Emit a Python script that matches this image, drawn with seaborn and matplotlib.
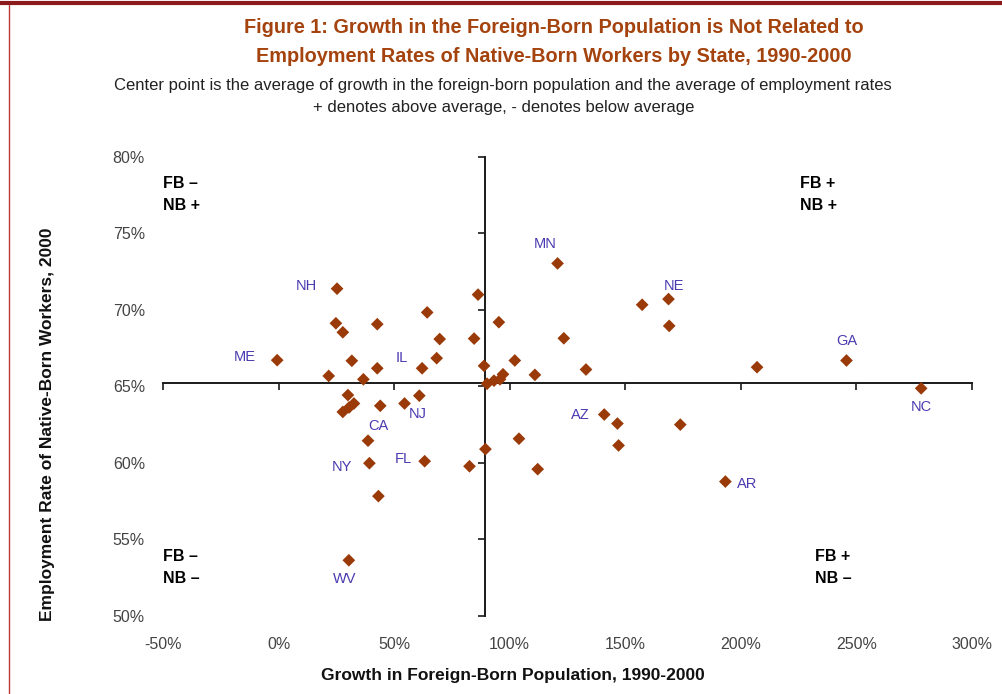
import matplotlib
matplotlib.use("Agg")
import matplotlib.pyplot as plt
from matplotlib.lines import Line2D
from matplotlib.ticker import FuncFormatter
import seaborn as sns
import pandas as pd

# ---------------- data ----------------
fb_growth = [25.3, 86.3, 64.3, 95.3, 24.8, 42.7, 27.8, 69.7, 84.6, -0.6,
             31.7, 68.4, 88.9, 62.1, 42.7, 21.7, 36.7, 120.7, 157.3, 168.7,
             169.0, 123.4, 102.2, 133.0, 110.9, 207.0, 245.7,
             90.2, 93.2, 95.8, 97.1,
             278.0, 30.0, 32.6, 30.5, 27.8, 44.0, 54.5, 60.9, 38.7, 39.3,
             43.2, 63.2, 82.6, 89.5, 140.9, 146.6, 147.1, 104.0, 112.1, 173.8,
             193.3, 30.4]
nb_employment = [71.38, 70.99, 69.83, 69.19, 69.12, 69.06, 68.53, 68.09, 68.12, 66.71,
                 66.67, 66.84, 66.34, 66.18, 66.18, 65.68, 65.46, 73.03, 70.33, 70.70,
                 68.95, 68.14, 66.69, 66.10, 65.75, 66.25, 66.69,
                 65.17, 65.37, 65.46, 65.79,
                 64.87, 64.43, 63.88, 63.62, 63.33, 63.73, 63.88, 64.39, 61.45, 59.98,
                 57.83, 60.11, 59.78, 60.90, 63.16, 62.57, 61.14, 61.58, 59.59, 62.50,
                 58.78, 53.64]
state_labels = ["NH", "", "", "", "", "", "", "", "", "ME",
                "", "IL", "", "", "", "", "", "MN", "", "NE",
                "", "", "", "", "", "", "GA",
                "", "", "", "",
                "NC", "", "", "", "", "", "NJ", "", "CA", "NY",
                "", "FL", "", "", "AZ", "", "", "", "", "",
                "AR", "WV"]
x_ticks = [-50, 0, 50, 100, 150, 200, 250, 300]
y_ticks = [50, 55, 60, 65, 70, 75, 80]
avg_growth = 89.4       # centre point: average growth of foreign-born population
avg_employment = 65.25  # centre point: average employment rate

quadrant_labels = [("FB \u2013", "NB +"), ("FB +", "NB +"),
                   ("FB \u2013", "NB \u2013"), ("FB +", "NB \u2013")]

# ---------------- styling ----------------
# label offsets in pixels (dx, dy up)
label_offsets = {"NH": (-31, 3), "ME": (-32, 3), "IL": (-35, 0), "MN": (-12, 19),
                 "NE": (5, 13), "GA": (0, 19), "NC": (0, -19), "AR": (22, -2),
                 "AZ": (-24, 0), "NJ": (13, -11), "CA": (10, 15), "NY": (-27, -4),
                 "FL": (-21, 2), "WV": (-4, -19)}
point_color = "#9A3A08"
label_color = "#4A3AB0"
title_color = "#A4430E"
tick_color = "#444444"

sns.set_theme(style="white")
plt.rcParams['font.family'] = ['Liberation Sans', 'DejaVu Sans']

fig = plt.figure(figsize=(10.03, 6.94), dpi=100)
fig.patch.set_facecolor("white")
pos = [0.1625, 0.1124, 0.8066, 0.6618]

# cross axes (underneath)
axc = fig.add_axes(pos)
# label / data axes (on top)
ax = fig.add_axes(pos, sharex=axc, sharey=axc)
ax.patch.set_visible(False)

df = pd.DataFrame({"growth": fb_growth, "emp": nb_employment, "state": state_labels})
sns.scatterplot(data=df, x="growth", y="emp", marker="D", s=42, color=point_color,
                edgecolor="none", linewidth=0, ax=ax, zorder=3, legend=False)

ax.set_xlim(-50, 300)
ax.set_ylim(50, 80)
ax.set_xticks(x_ticks)
ax.set_yticks(y_ticks)
fmt = FuncFormatter(lambda v, p: f"{v:.0f}%")
ax.xaxis.set_major_formatter(fmt)
ax.yaxis.set_major_formatter(fmt)
for s in ax.spines.values():
    s.set_visible(False)
ax.tick_params(axis="both", length=0, labelsize=11.5, labelcolor=tick_color)
ax.tick_params(axis="x", pad=15)
ax.tick_params(axis="y", pad=13)

ax.set_xlabel("Growth in Foreign-Born Population, 1990-2000", fontsize=12.5,
              fontweight="bold", color="#111111")
ax.set_ylabel("Employment Rate of Native-Born Workers, 2000", fontsize=12.5,
              fontweight="bold", color="#111111")
ax.xaxis.set_label_coords(0.433, -0.113)
ax.yaxis.set_label_coords(-0.134, 0.417)

# cross lines through the average point
axc.spines["left"].set_position(("data", avg_growth))
axc.spines["bottom"].set_position(("data", avg_employment))
axc.spines["top"].set_visible(False)
axc.spines["right"].set_visible(False)
for k in ("left", "bottom"):
    axc.spines[k].set_color("#1a1a1a")
    axc.spines[k].set_linewidth(1.4)
axc.tick_params(axis="both", direction="out", length=5, width=1.2, color="#1a1a1a",
                labelleft=False, labelbottom=False, left=True, bottom=True)
axc.set_xlabel("")
axc.set_ylabel("")
axc.grid(False)
ax.grid(False)

# state labels
for _, r in df.iterrows():
    if r["state"]:
        dx, dy = label_offsets[r["state"]]
        ax.annotate(r["state"], (r["growth"], r["emp"]), xytext=(dx, dy),
                    textcoords="offset pixels", ha="center", va="center",
                    fontsize=10.5, color=label_color, zorder=4)

# quadrant labels
quad_pos = [(0.0, 0.9406, 0.8927), (0.787, 0.9406, 0.8927),
            (0.0, 0.1285, 0.0806), (0.806, 0.1285, 0.0806)]
for (l1, l2), (qx, qy1, qy2) in zip(quadrant_labels, quad_pos):
    ax.text(qx, qy1, l1, transform=ax.transAxes, ha="left", va="center",
            fontsize=11.5, fontweight="bold", color="black")
    ax.text(qx, qy2, l2, transform=ax.transAxes, ha="left", va="center",
            fontsize=11.5, fontweight="bold", color="black")

# titles
fig.text(0.552, 0.961, "Figure 1: Growth in the Foreign-Born Population is Not Related to",
         ha="center", va="center", fontsize=14.3, fontweight="bold", color=title_color)
fig.text(0.552, 0.918, "Employment Rates of Native-Born Workers by State, 1990-2000",
         ha="center", va="center", fontsize=14.3, fontweight="bold", color=title_color)
fig.text(0.501, 0.8765, "Center point is the average of growth in the foreign-born population and the average of employment rates",
         ha="center", va="center", fontsize=12, color="#222222")
fig.text(0.502, 0.8448, "+ denotes above average, - denotes below average",
         ha="center", va="center", fontsize=12, color="#222222")

# frame decoration
fig.add_artist(Line2D([0.0, 1.0], [0.9955, 0.9955], transform=fig.transFigure,
                      color="#8B1A1A", lw=3))
fig.add_artist(Line2D([0.0085, 0.0085], [0.0, 0.993], transform=fig.transFigure,
                      color="#B83A3A", lw=1))

fig.savefig("out.png", dpi=100)
